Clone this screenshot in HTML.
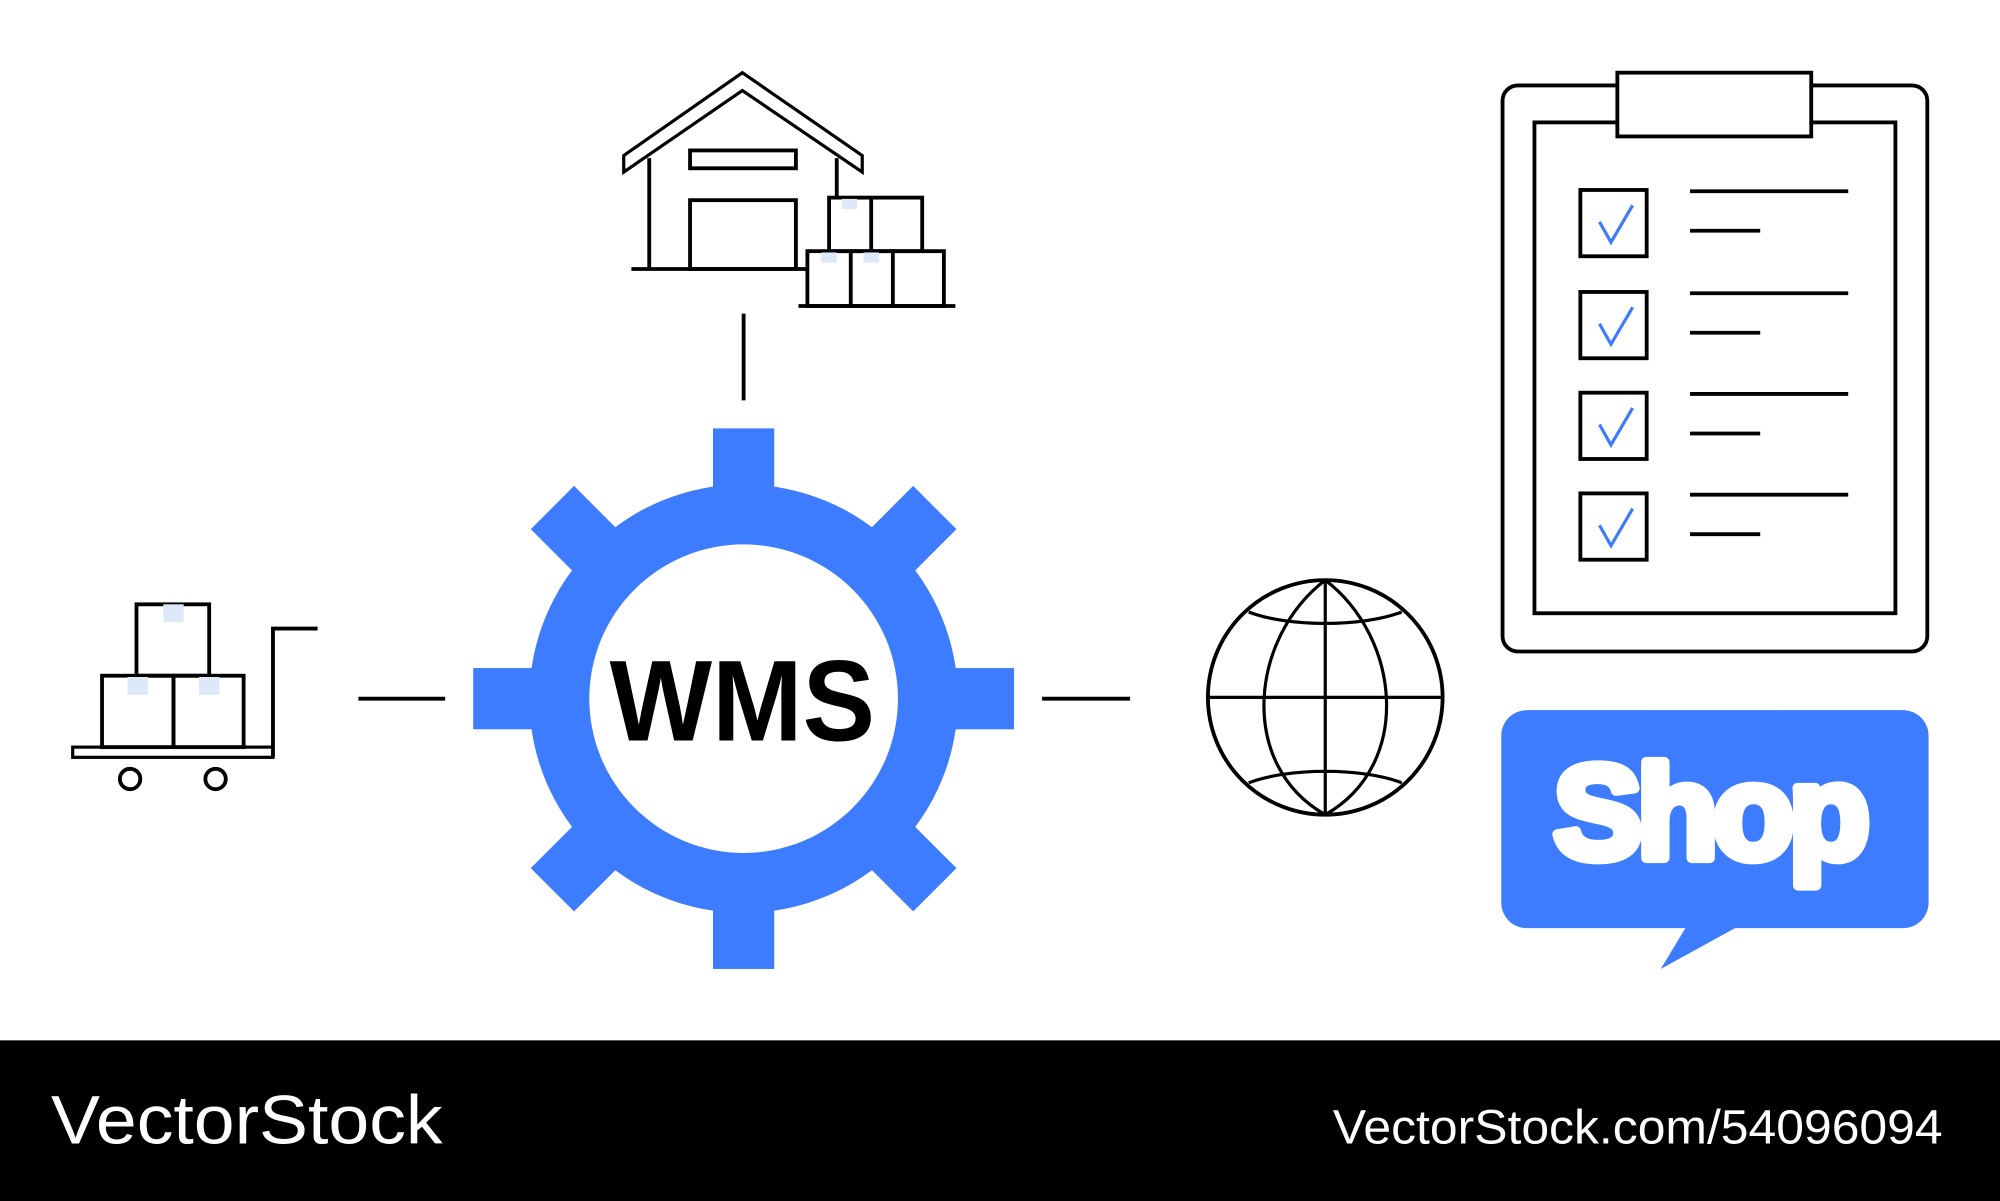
<!DOCTYPE html>
<html><head><meta charset="utf-8"><style>
html,body{margin:0;padding:0;background:#fff;width:2000px;height:1201px;overflow:hidden}
svg{display:block}
</style></head><body>
<svg width="2000" height="1201" viewBox="0 0 1568 942" preserveAspectRatio="none" xmlns="http://www.w3.org/2000/svg">
<rect width="1568" height="942" fill="#fff"/>
<g stroke="#000" stroke-width="3" fill="none">
<line x1="583" y1="246" x2="583" y2="314"/>
<line x1="281" y1="548" x2="349" y2="548"/>
<line x1="817" y1="548" x2="886" y2="548"/>
<path d="M489,122 L582,57 L676,122 L676,135 L582,71 L489,135 Z" stroke-width="2.5"/>
<line x1="509" y1="124" x2="509" y2="211"/>
<line x1="656" y1="124" x2="656" y2="155"/>
<line x1="495" y1="211" x2="633" y2="211"/>
<rect x="541" y="118" width="83" height="14"/>
<rect x="541" y="157" width="83" height="54"/>
<rect x="650" y="155" width="73" height="42"/>
<line x1="683" y1="155" x2="683" y2="197"/>
<rect x="633" y="197" width="107" height="43"/>
<line x1="667" y1="197" x2="667" y2="240"/>
<line x1="700" y1="197" x2="700" y2="240"/>
<line x1="626" y1="240" x2="749" y2="240"/>
<rect x="57" y="586" width="157" height="8" stroke-width="2.5"/>
<polyline points="214,594 214,493 249,493"/>
<circle cx="102" cy="611" r="8"/>
<circle cx="169" cy="611" r="8"/>
<rect x="80" y="530" width="56" height="56"/>
<rect x="136" y="530" width="55" height="56"/>
<rect x="107" y="474" width="57" height="56"/>
<circle cx="1039" cy="547" r="92"/>
<line x1="947" y1="547" x2="1131" y2="547" stroke-width="2.5"/>
<line x1="1039" y1="455" x2="1039" y2="639" stroke-width="2.5"/>
<path d="M1039,455 C980,500 970,600 1039,639 M1039,455 C1098,500 1108,600 1039,639" stroke-width="2.5"/>
<path d="M979,480 C1010,492 1068,492 1099,480 M979,614 C1010,602 1068,602 1099,614" stroke-width="2.5"/>
<rect x="1178" y="67" width="333" height="444" rx="12"/>
<rect x="1203" y="96" width="283" height="385"/>
<rect x="1268" y="57" width="152" height="50" fill="#fff"/>
<g>
<rect x="1239" y="149" width="52" height="52"/>
<rect x="1239" y="229" width="52" height="52"/>
<rect x="1239" y="308" width="52" height="52"/>
<rect x="1239" y="387" width="52" height="52"/>
<line x1="1325" y1="150" x2="1449" y2="150"/><line x1="1325" y1="181" x2="1380" y2="181"/>
<line x1="1325" y1="230" x2="1449" y2="230"/><line x1="1325" y1="261" x2="1380" y2="261"/>
<line x1="1325" y1="309" x2="1449" y2="309"/><line x1="1325" y1="340" x2="1380" y2="340"/>
<line x1="1325" y1="388" x2="1449" y2="388"/><line x1="1325" y1="419" x2="1380" y2="419"/>
</g>
</g>
<g stroke="#3d7bff" stroke-width="2.5" fill="none">
<polyline points="1254,174 1263,190 1280,161"/>
<polyline points="1254,254 1263,270 1280,241"/>
<polyline points="1254,333 1263,349 1280,320"/>
<polyline points="1254,412 1263,428 1280,399"/>
</g>
<g fill="#dde8fb">
<rect x="128" y="474" width="16" height="14"/>
<rect x="100" y="531" width="16" height="14"/>
<rect x="156" y="531" width="16" height="14"/>
<rect x="660" y="156" width="12" height="8"/>
<rect x="644" y="198" width="12" height="8"/>
<rect x="677" y="198" width="12" height="8"/>
</g>
<g fill="#3d7bff" transform="translate(583,548)">
<rect x="-24" y="-212" width="48" height="424"/>
<rect x="-24" y="-212" width="48" height="424" transform="rotate(45)"/>
<rect x="-24" y="-212" width="48" height="424" transform="rotate(90)"/>
<rect x="-24" y="-212" width="48" height="424" transform="rotate(135)"/>
<circle r="168"/>
<circle r="121" fill="#fff"/>
</g>
<text x="478" y="581" textLength="208" lengthAdjust="spacingAndGlyphs" font-family="Liberation Sans, sans-serif" font-weight="bold" font-size="90" fill="#000">WMS</text>
<rect x="1177" y="557" width="335" height="171" rx="20" fill="#3d7bff"/>
<polygon points="1322,727 1302,760 1362,727" fill="#3d7bff"/>
<text x="1340" y="673" text-anchor="middle" font-family="Liberation Sans, sans-serif" font-weight="bold" font-size="104" fill="#fff" stroke="#fff" stroke-width="8" stroke-linejoin="round" letter-spacing="-4">Shop</text>
<rect x="0" y="816" width="1568" height="126" fill="#000"/>
<text x="40" y="897" textLength="307" lengthAdjust="spacingAndGlyphs" font-family="Liberation Sans, sans-serif" font-size="54" fill="#fff">VectorStock</text>
<text x="1045" y="897" textLength="478" lengthAdjust="spacingAndGlyphs" font-family="Liberation Sans, sans-serif" font-size="38" fill="#fff">VectorStock.com/54096094</text>
</svg>
</body></html>
